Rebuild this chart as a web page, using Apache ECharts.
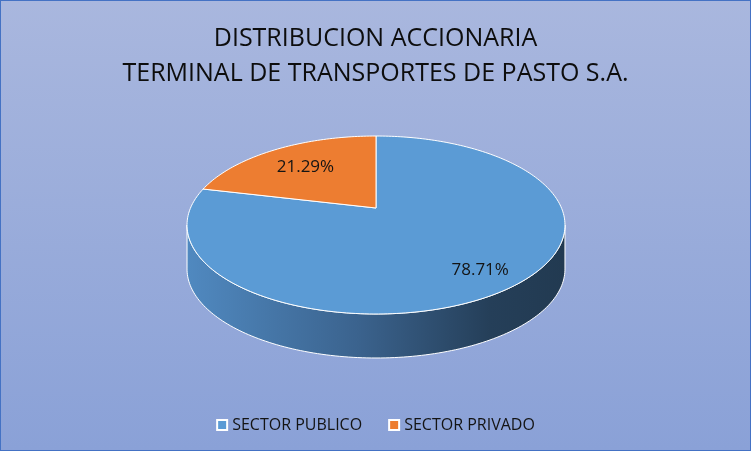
<!doctype html>
<html lang="es">
<head>
    <meta charset="UTF-8">
    <title>Distribucion accionaria</title>
    <script type="text/javascript" src="https://cdn.jsdelivr.net/npm/echarts@6/dist/echarts.min.js"></script>
    <style>
        html, body { margin: 0; padding: 0; }
        #container {
            width: 751px; height: 451px; box-sizing: border-box;
            border: 1px solid #4472C4;
            background: linear-gradient(to bottom, #A9B7DE, #8AA1D7);
        }
    </style>
</head>
<body>
<div id="container"></div>
<script type="text/javascript">

    var categories = ['SECTOR PUBLICO', 'SECTOR PRIVADO'];
    var values = [78.71, 21.29];
    var colors = ['#5B9BD5', '#ED7D31'];

    // geometria del pastel 3D (perspectiva simple)
    var CX = 375, CY = 207, A = 185.5, B = 85.75, K = 0.191, T = 44;
    var total = values.reduce(function (s, v) { return s + v; }, 0);

    function proj(phi, r, drop) {
        var u = r * Math.sin(phi), v = -r * Math.cos(phi);
        var w = 1 - K * v;
        return [CX + A * u / w, CY + B * v / w + (drop || 0)];
    }

    function sliceRange(i) {
        var acc = 0;
        for (var k = 0; k < i; k++) acc += values[k];
        return [acc / total * Math.PI * 2, (acc + values[i]) / total * Math.PI * 2];
    }

    function arcPoints(a0, a1, drop) {
        var pts = [];
        var n = Math.max(2, Math.ceil((a1 - a0) / 0.02));
        for (var j = 0; j <= n; j++) {
            pts.push(proj(a0 + (a1 - a0) * j / n, 1, drop));
        }
        return pts;
    }

    var phiR = Math.acos(-K), phiL = Math.PI * 2 - phiR;

    var wallGradient = {
        type: 'linear', x: 186, y: 0, x2: 564, y2: 0, global: true,
        colorStops: [
            {offset: 0, color: '#5089C0'},
            {offset: 0.45, color: '#3B638E'},
            {offset: 0.8, color: '#253F59'},
            {offset: 1, color: '#223A51'}
        ]
    };

    var series = [{
        type: 'custom',
        coordinateSystem: 'none',
        silent: true,
        z: 1,
        data: values.map(function (v, i) { return [i]; }),
        renderItem: function (params, api) {
            var i = api.value(0);
            var r = sliceRange(i);
            var a0 = Math.max(r[0], phiR), a1 = Math.min(r[1], phiL);
            if (a1 <= a0) return;
            var top = arcPoints(a0, a1, 0);
            var bottom = arcPoints(a0, a1, T).reverse();
            return {
                type: 'polygon',
                shape: {points: top.concat(bottom)},
                style: {fill: wallGradient, stroke: '#FFFFFF', lineWidth: 1}
            };
        }
    }];

    categories.forEach(function (name, i) {
        series.push({
            type: 'custom',
            name: name,
            coordinateSystem: 'none',
            z: 2,
            itemStyle: {color: colors[i]},
            data: [[i]],
            renderItem: function (params, api) {
                var r = sliceRange(i);
                var pts = [proj(0, 0, 0)].concat(arcPoints(r[0], r[1], 0));
                var mid = (r[0] + r[1]) / 2;
                var lp = proj(mid, 0.75, 0);
                return {
                    type: 'group',
                    children: [{
                        type: 'polygon',
                        shape: {points: pts},
                        style: {fill: colors[i], stroke: '#FFFFFF', lineWidth: 1}
                    }, {
                        type: 'text',
                        style: {
                            text: values[i].toFixed(2) + '%',
                            x: lp[0] + 7, y: lp[1] + 5,
                            align: 'center', verticalAlign: 'middle',
                            fill: '#141414',
                            font: '17px "Open Sans"'
                        }
                    }]
                };
            }
        });
    });

    var dom = document.getElementById('container');
    var myChart = echarts.init(dom);
    var option = {
        animation: false,
        title: {
            text: 'DISTRIBUCION ACCIONARIA\nTERMINAL DE TRANSPORTES DE PASTO S.A.',
            left: 'center',
            top: 15,
            textStyle: {
                fontFamily: 'Open Sans',
                fontSize: 25,
                fontWeight: 'normal',
                color: '#0D0D0D',
                lineHeight: 35
            }
        },
        legend: {
            data: categories,
            top: 411,
            left: 'center',
            icon: 'rect',
            itemWidth: 10,
            itemHeight: 10,
            itemGap: 26,
            itemStyle: {borderColor: '#FFFFFF', borderWidth: 2},
            textStyle: {fontFamily: 'Open Sans', fontSize: 16, color: '#141414'}
        },
        series: series
    };
    myChart.setOption(option);

</script>
</body>
</html>
